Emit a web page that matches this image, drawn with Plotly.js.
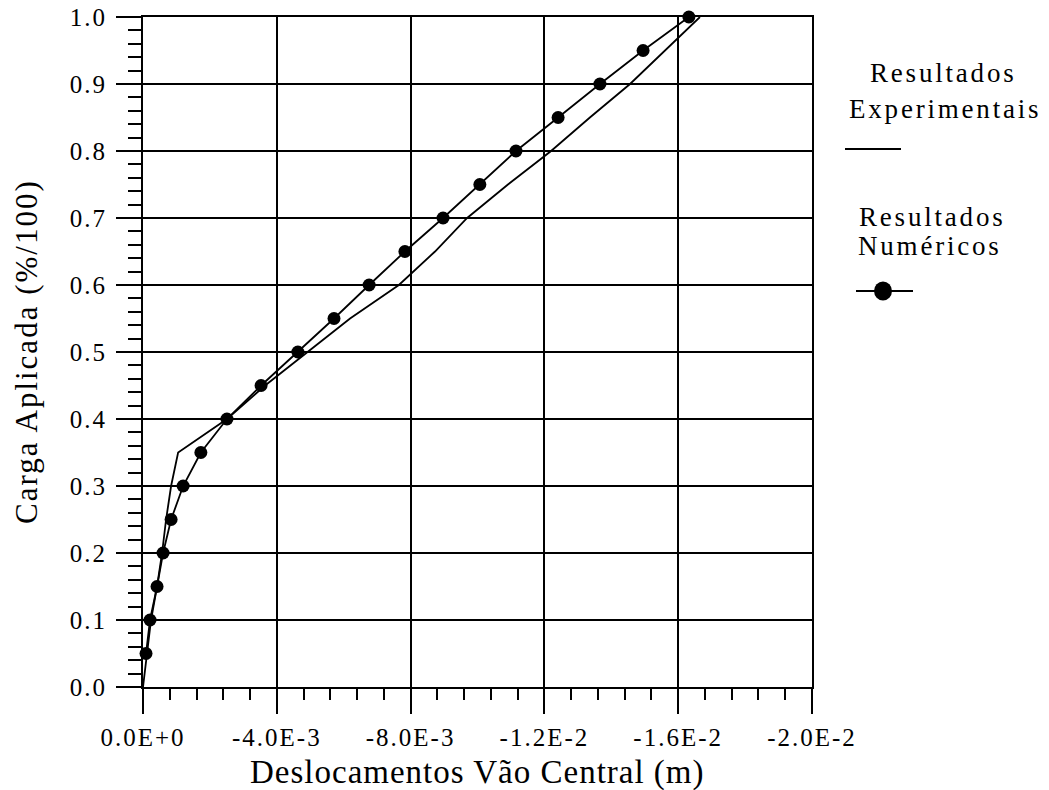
<!DOCTYPE html>
<html>
<head>
<meta charset="utf-8">
<script src="https://cdn.plot.ly/plotly-3.0.1.min.js"></script>
<style>
body{margin:0;background:#fff;}
.xtick text, .ytick text {letter-spacing:2px;}
</style>
</head>
<body>
<div id="chart" style="width:1049px;height:790px;"></div>
<script>
// Experimental results (line only)
const expLoad = [0.0, 0.05, 0.10, 0.15, 0.20, 0.25, 0.30, 0.35, 0.40, 0.45, 0.50, 0.55, 0.60, 0.65, 0.70, 0.75, 0.80, 0.85, 0.90, 0.95, 1.00];
const expDisp = [0.0, -0.00012, -0.00024, -0.00042, -0.00057, -0.00069, -0.00084, -0.00105, -0.00251, -0.00365, -0.00493, -0.00619, -0.00765, -0.00873, -0.00969, -0.01091, -0.01220, -0.01336, -0.01456, -0.01561, -0.01665];

// Numerical results (line + markers)
const numLoad = [0.05, 0.10, 0.15, 0.20, 0.25, 0.30, 0.35, 0.40, 0.45, 0.50, 0.55, 0.60, 0.65, 0.70, 0.75, 0.80, 0.85, 0.90, 0.95, 1.00];
const numDisp = [-0.00009, -0.00021, -0.00042, -0.00060, -0.00084, -0.00120, -0.00173, -0.00251, -0.00353, -0.00463, -0.00571, -0.00676, -0.00783, -0.00897, -0.01007, -0.01115, -0.01241, -0.01366, -0.01495, -0.01632];

// Axis ticks
const xTickVals = [0, -0.004, -0.008, -0.012, -0.016, -0.020];
const xTickText = ["0.0E+0", "-4.0E-3", "-8.0E-3", "-1.2E-2", "-1.6E-2", "-2.0E-2"];
const yTickVals = [0, 0.1, 0.2, 0.3, 0.4, 0.5, 0.6, 0.7, 0.8, 0.9, 1.0];
const yTickText = ["0.0", "0.1", "0.2", "0.3", "0.4", "0.5", "0.6", "0.7", "0.8", "0.9", "1.0"];

const xTitle = "Deslocamentos Vão Central (m)";
const yTitle = "Carga Aplicada (%/100)";
const legExp = ["Resultados", "Experimentais"];
const legNum = ["Resultados", "Numéricos"];

const serif = "Liberation Serif";
const spaced = (t, s) => '<span style="letter-spacing:' + s + 'px">' + t + '</span>';

const traces = [
  {
    x: expDisp, y: expLoad, type: "scatter", mode: "lines",
    line: {color: "#000", width: 1.8}, name: "Resultados Experimentais", cliponaxis: false
  },
  {
    x: numDisp, y: numLoad, type: "scatter", mode: "lines+markers",
    line: {color: "#000", width: 1.8},
    marker: {color: "#000", size: 13, symbol: "circle"},
    name: "Resultados Numéricos", cliponaxis: false
  }
];

const px = v => (v - 143) / 669;
const py = v => (687 - v) / 670;

const legFont = {family: serif, size: 27, color: "#000"};

const layout = {
  width: 1049, height: 790,
  margin: {l: 143, r: 237, t: 17, b: 103},
  paper_bgcolor: "#fff", plot_bgcolor: "#fff",
  showlegend: false,
  xaxis: {
    range: [0, -0.02], tickmode: "array", tickvals: xTickVals, ticktext: xTickText,
    showgrid: true, gridcolor: "#000", gridwidth: 2, zeroline: false,
    showline: true, linecolor: "#000", linewidth: 2, mirror: true,
    ticks: "outside", ticklen: 25, tickwidth: 2, tickcolor: "#000",
    tickfont: {family: serif, size: 25, color: "#000"},
    ticklabelstandoff: 2,
    minor: {tickmode: "linear", tick0: 0, dtick: 0.0008, ticks: "outside", ticklen: 11, tickwidth: 2, tickcolor: "#000", showgrid: false}
  },
  yaxis: {
    range: [0, 1.0], tickmode: "array", tickvals: yTickVals, ticktext: yTickText,
    showgrid: true, gridcolor: "#000", gridwidth: 2, zeroline: false,
    showline: true, linecolor: "#000", linewidth: 2, mirror: true,
    ticks: "outside", ticklen: 25, tickwidth: 2, tickcolor: "#000",
    tickfont: {family: serif, size: 25, color: "#000"},
    ticklabelstandoff: 4,
    minor: {tickmode: "linear", tick0: 0, dtick: 0.02, ticks: "outside", ticklen: 13, tickwidth: 2, tickcolor: "#000", showgrid: false}
  },
  annotations: [
    {text: spaced(xTitle, 1), xref: "paper", yref: "paper", x: 0.5, y: py(772), xanchor: "center", yanchor: "middle", showarrow: false, font: {family: serif, size: 33, color: "#000"}},
    {text: spaced(yTitle, 2), xref: "paper", yref: "paper", x: px(26), y: 0.5, xanchor: "center", yanchor: "middle", textangle: -90, showarrow: false, font: {family: serif, size: 31, color: "#000"}},
    {text: spaced(legExp[0], 2.8), xref: "paper", yref: "paper", x: px(943), y: py(73), xanchor: "center", yanchor: "middle", showarrow: false, font: legFont},
    {text: spaced(legExp[1], 2.8), xref: "paper", yref: "paper", x: px(945), y: py(109), xanchor: "center", yanchor: "middle", showarrow: false, font: legFont},
    {text: spaced(legNum[0], 2.8), xref: "paper", yref: "paper", x: px(932), y: py(217), xanchor: "center", yanchor: "middle", showarrow: false, font: legFont},
    {text: spaced(legNum[1], 2.8), xref: "paper", yref: "paper", x: px(930), y: py(246), xanchor: "center", yanchor: "middle", showarrow: false, font: legFont}
  ],
  shapes: [
    {type: "line", xref: "paper", yref: "paper", x0: px(845), x1: px(901), y0: py(149), y1: py(149), line: {color: "#000", width: 2}},
    {type: "line", xref: "paper", yref: "paper", x0: px(856), x1: px(913), y0: py(291), y1: py(291), line: {color: "#000", width: 2}},
    {type: "circle", xref: "paper", yref: "paper", xsizemode: "pixel", ysizemode: "pixel", xanchor: px(883), yanchor: py(291), x0: -9, x1: 9, y0: -9.5, y1: 9.5, fillcolor: "#000", line: {color: "#000", width: 0}}
  ]
};

Plotly.newPlot("chart", traces, layout, {staticPlot: true, displayModeBar: false});
</script>
</body>
</html>
